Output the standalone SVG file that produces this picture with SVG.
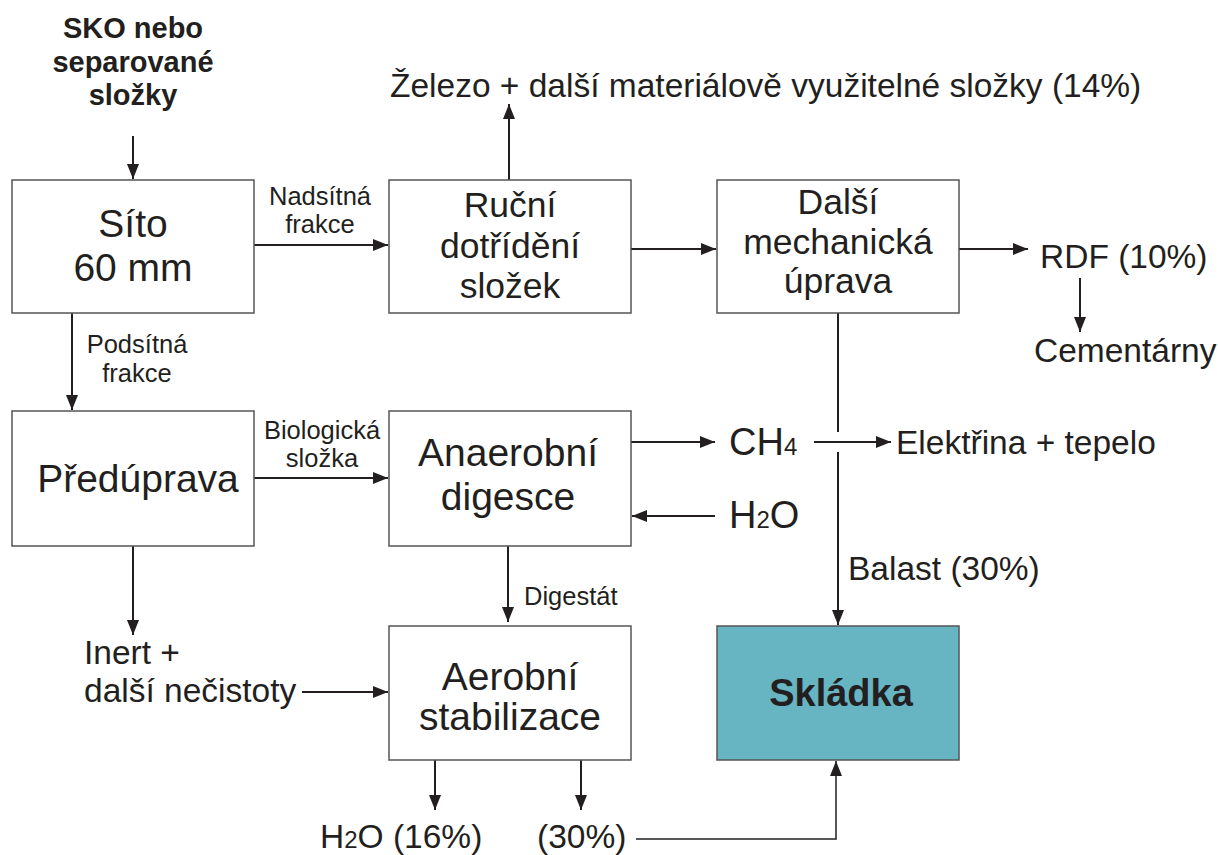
<svg xmlns="http://www.w3.org/2000/svg" width="1218" height="855" viewBox="0 0 1218 855">
<style>
text{font-family:"Liberation Sans",Arial,sans-serif;fill:#231f20}
.box{fill:#fff;stroke:#555;stroke-width:1.5}
.big{font-size:39px;text-anchor:middle}
.mid{font-size:35.5px;text-anchor:middle}
.lab{font-size:33.5px}
.sm{font-size:25.5px;text-anchor:middle}
.sub{font-size:24px}
.con{fill:none;stroke:#231f20;stroke-width:2}
.thin{fill:none;stroke:#231f20;stroke-width:1.5}
</style>
<defs>
<marker id="ah" markerUnits="userSpaceOnUse" markerWidth="16" markerHeight="12" refX="15" refY="6" orient="auto">
<path d="M0,0 L15,6 L0,12 Z" fill="#231f20"/>
</marker>
</defs>
<g id="connectors">
<path class="con" d="M133,136 V179" marker-end="url(#ah)"/>
<path class="con" d="M254,245 H388" marker-end="url(#ah)"/>
<path class="con" d="M509,180 V104" marker-end="url(#ah)"/>
<path class="con" d="M631,249 H716" marker-end="url(#ah)"/>
<path class="con" d="M959,249 H1028" marker-end="url(#ah)"/>
<path class="con" d="M1080,278 V332" marker-end="url(#ah)"/>
<path class="con" d="M72,313 V410" marker-end="url(#ah)"/>
<path class="con" d="M254,478 H388" marker-end="url(#ah)"/>
<path class="con" d="M631,442 H715" marker-end="url(#ah)"/>
<path class="con" d="M814,442 H891" marker-end="url(#ah)"/>
<path class="con" d="M715,516 H632" marker-end="url(#ah)"/>
<path class="con" d="M838,313 V432"/>
<path class="con" d="M838,452 V625" marker-end="url(#ah)"/>
<path class="con" d="M133,546 V635" marker-end="url(#ah)"/>
<path class="con" d="M302,692 H388" marker-end="url(#ah)"/>
<path class="con" d="M508,546 V622" marker-end="url(#ah)"/>
<path class="con" d="M435,760 V810" marker-end="url(#ah)"/>
<path class="con" d="M581,760 V810" marker-end="url(#ah)"/>
<path class="thin" d="M636,839 H836 V761" marker-end="url(#ah)"/>
</g>
<g id="sko">
<text x="133" y="38" font-size="29" font-weight="bold" text-anchor="middle">SKO nebo</text>
<text x="133" y="72" font-size="29" font-weight="bold" text-anchor="middle">separované</text>
<text x="133" y="105" font-size="29" font-weight="bold" text-anchor="middle">složky</text>
</g>
<g id="sito">
<rect class="box" x="12" y="180" width="242" height="133"/>
<text class="big" x="133" y="237">Síto</text>
<text class="big" x="133" y="281">60 mm</text>
</g>
<g id="rucni">
<rect class="box" x="389" y="180" width="242" height="133"/>
<text class="mid" x="510" y="217">Ruční</text>
<text class="mid" x="510" y="258">dotřídění</text>
<text class="mid" x="510" y="298">složek</text>
</g>
<g id="dalsi">
<rect class="box" x="717" y="180" width="242" height="133"/>
<text class="mid" x="838" y="214">Další</text>
<text class="mid" x="838" y="254">mechanická</text>
<text class="mid" x="838" y="293">úprava</text>
</g>
<g id="preduprava">
<rect class="box" x="12" y="411" width="242" height="135"/>
<text class="big" x="138" y="492" font-size="40">Předúprava</text>
</g>
<g id="anaerobni">
<rect class="box" x="389" y="411" width="242" height="135"/>
<text class="big" x="508" y="466" font-size="40">Anaerobní</text>
<text class="big" x="508" y="510" font-size="40">digesce</text>
</g>
<g id="aerobni">
<rect class="box" x="389" y="626" width="242" height="134"/>
<text class="big" x="510" y="690">Aerobní</text>
<text class="big" x="510" y="730">stabilizace</text>
</g>
<g id="skladka">
<rect x="717" y="626" width="242" height="134" fill="#67b4c3" stroke="#555" stroke-width="1.5"/>
<text x="841" y="706" font-size="38" font-weight="bold" text-anchor="middle">Skládka</text>
</g>
<g id="labels">
<text class="sm" x="320" y="205">Nadsítná</text>
<text class="sm" x="320" y="233">frakce</text>
<text class="sm" x="137" y="353">Podsítná</text>
<text class="sm" x="137" y="382">frakce</text>
<text class="sm" x="322" y="439">Biologická</text>
<text class="sm" x="322" y="467">složka</text>
<text x="524" y="605" font-size="25.5">Digestát</text>
<text class="lab" x="390" y="97">Železo + další materiálově využitelné složky (14%)</text>
<text class="lab" x="1040" y="268">RDF (10%)</text>
<text class="lab" x="1034" y="362">Cementárny</text>
<text x="729" y="455" font-size="38">CH<tspan class="sub">4</tspan></text>
<text x="729" y="528" font-size="38">H<tspan class="sub">2</tspan>O</text>
<text class="lab" x="896" y="454">Elektřina + tepelo</text>
<text class="lab" x="848" y="580">Balast (30%)</text>
<text class="lab" x="84" y="664">Inert +</text>
<text class="lab" x="84" y="702">další nečistoty</text>
<text class="lab" x="320" y="848">H<tspan font-size="24">2</tspan>O (16%)</text>
<text class="lab" x="537" y="848">(30%)</text>
</g>
</svg>
